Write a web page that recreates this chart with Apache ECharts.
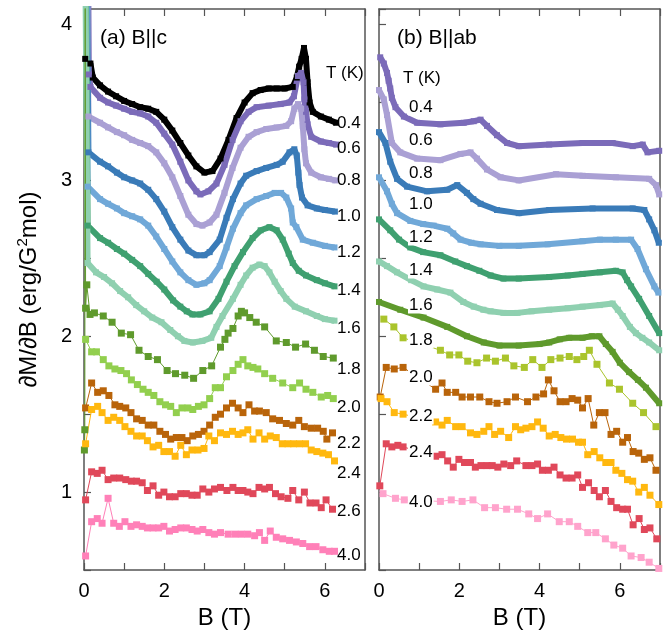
<!DOCTYPE html>
<html>
<head>
<meta charset="utf-8">
<script src="https://cdn.jsdelivr.net/npm/echarts@6/dist/echarts.min.js"></script>
<style>html,body{margin:0;padding:0;background:#fff}#c{width:667px;height:635px}</style>
</head>
<body>
<div id="c"></div>
<script>
// ---------- DATA: panel (a) B||c  [B (T), dM/dB] ----------
const a04 = [[0.03,3.78],[0.16,3.75],[0.22,3.66],[0.4,3.61],[0.6,3.57],[0.8,3.54],[1.0,3.51],[1.2,3.49],[1.4,3.47],[1.6,3.46],[1.8,3.44],[2.0,3.39],[2.2,3.32],[2.4,3.24],[2.6,3.16],[2.8,3.09],[3.0,3.05],[3.2,3.06],[3.4,3.14],[3.6,3.26],[3.8,3.40],[4.0,3.50],[4.2,3.56],[4.4,3.58],[4.6,3.59],[4.8,3.59],[5.0,3.59],[5.2,3.60],[5.3,3.66],[5.36,3.73],[5.42,3.78],[5.48,3.85],[5.53,3.78],[5.57,3.63],[5.62,3.50],[5.7,3.44],[5.9,3.41],[6.1,3.39],[6.28,3.37]];
const a06 = [[0.1,4.5],[0.12,3.68],[0.16,3.60],[0.4,3.53],[0.6,3.50],[0.8,3.48],[1.0,3.46],[1.2,3.44],[1.4,3.43],[1.6,3.41],[1.8,3.37],[2.0,3.30],[2.2,3.23],[2.4,3.12],[2.6,3.00],[2.8,2.93],[2.9,2.91],[3.1,2.93],[3.3,2.98],[3.5,3.10],[3.7,3.26],[3.9,3.38],[4.1,3.44],[4.3,3.47],[4.6,3.48],[4.9,3.49],[5.12,3.50],[5.23,3.54],[5.33,3.67],[5.41,3.69],[5.47,3.63],[5.49,3.52],[5.53,3.44],[5.57,3.36],[5.66,3.28],[5.9,3.25],[6.1,3.24],[6.28,3.23]];
const a08 = [[0.08,4.5],[0.11,3.41],[0.4,3.37],[0.6,3.34],[0.82,3.31],[1.0,3.29],[1.2,3.26],[1.4,3.24],[1.6,3.22],[1.8,3.18],[2.0,3.11],[2.2,3.02],[2.4,2.90],[2.6,2.78],[2.8,2.72],[2.95,2.71],[3.13,2.73],[3.3,2.78],[3.5,2.92],[3.7,3.08],[3.9,3.21],[4.1,3.28],[4.3,3.31],[4.54,3.33],[4.8,3.34],[5.04,3.35],[5.16,3.38],[5.24,3.46],[5.33,3.49],[5.41,3.46],[5.45,3.35],[5.49,3.20],[5.53,3.11],[5.66,3.05],[5.9,3.02],[6.1,3.01],[6.26,3.00]];
const a10 = [[0.07,4.5],[0.11,3.18],[0.4,3.12],[0.6,3.09],[0.82,3.05],[1.0,3.02],[1.2,3.00],[1.4,2.98],[1.6,2.94],[1.8,2.88],[2.0,2.80],[2.2,2.70],[2.4,2.62],[2.6,2.55],[2.8,2.52],[3.0,2.52],[3.13,2.54],[3.38,2.62],[3.55,2.76],[3.71,2.88],[3.9,2.98],[4.04,3.03],[4.3,3.06],[4.54,3.08],[4.8,3.10],[4.95,3.12],[5.12,3.18],[5.24,3.20],[5.3,3.16],[5.34,3.05],[5.37,2.97],[5.43,2.89],[5.57,2.84],[5.8,2.82],[6.0,2.81],[6.25,2.80]];
const a12 = [[0.06,4.5],[0.09,2.96],[0.4,2.88],[0.6,2.85],[0.82,2.82],[1.0,2.79],[1.2,2.77],[1.4,2.75],[1.6,2.71],[1.8,2.64],[2.0,2.56],[2.2,2.48],[2.4,2.41],[2.6,2.36],[2.8,2.33],[3.0,2.34],[3.13,2.36],[3.38,2.45],[3.55,2.57],[3.71,2.69],[3.9,2.79],[4.04,2.84],[4.3,2.88],[4.54,2.90],[4.75,2.92],[4.91,2.92],[5.04,2.89],[5.16,2.82],[5.2,2.73],[5.29,2.70],[5.45,2.62],[5.7,2.60],[6.0,2.58],[6.24,2.57]];
const a14 = [[0.04,4.5],[0.09,2.71],[0.4,2.63],[0.6,2.60],[0.82,2.56],[1.0,2.53],[1.2,2.49],[1.4,2.45],[1.6,2.40],[1.81,2.35],[2.0,2.30],[2.22,2.23],[2.4,2.19],[2.56,2.16],[2.7,2.14],[2.9,2.14],[3.13,2.16],[3.35,2.24],[3.55,2.35],[3.75,2.45],[3.96,2.54],[4.2,2.63],[4.4,2.68],[4.62,2.70],[4.8,2.68],[4.95,2.62],[5.1,2.53],[5.2,2.47],[5.35,2.42],[5.53,2.39],[5.8,2.36],[6.0,2.34],[6.24,2.32]];
const a16 = [[0.03,4.5],[0.09,2.47],[0.3,2.41],[0.5,2.38],[0.7,2.34],[0.9,2.29],[1.1,2.25],[1.3,2.20],[1.5,2.16],[1.7,2.12],[1.93,2.09],[2.15,2.04],[2.34,2.00],[2.5,1.97],[2.71,1.96],[2.95,1.97],[3.17,1.99],[3.3,2.06],[3.45,2.13],[3.71,2.24],[3.9,2.33],[4.04,2.39],[4.2,2.44],[4.37,2.46],[4.5,2.45],[4.62,2.41],[4.75,2.35],[4.9,2.29],[5.04,2.24],[5.25,2.19],[5.53,2.16],[5.8,2.13],[6.0,2.11],[6.24,2.10]];
const a18 = [[0.01,1.27],[0.02,1.40],[0.03,4.4],[0.04,2.18],[0.07,2.33],[0.15,2.14],[0.26,2.15],[0.48,2.13],[0.70,2.09],[0.93,2.02],[1.16,2.01],[1.37,1.91],[1.6,1.87],[1.83,1.85],[2.07,1.78],[2.28,1.76],[2.51,1.75],[2.73,1.73],[2.96,1.78],[3.18,1.81],[3.4,1.93],[3.51,1.98],[3.59,2.02],[3.71,2.05],[3.84,2.13],[3.92,2.16],[4.0,2.15],[4.13,2.12],[4.29,2.09],[4.5,2.06],[4.79,1.97],[5.04,1.96],[5.27,1.93],[5.52,1.95],[5.74,1.91],[5.96,1.87],[6.21,1.86]];
const a20 = [[0.04,1.98],[0.19,1.90],[0.31,1.90],[0.48,1.85],[0.62,1.81],[0.77,1.79],[0.92,1.78],[1.06,1.76],[1.18,1.72],[1.33,1.69],[1.47,1.66],[1.6,1.64],[1.74,1.62],[1.89,1.58],[2.03,1.56],[2.16,1.55],[2.3,1.51],[2.44,1.54],[2.59,1.54],[2.71,1.53],[2.85,1.55],[2.99,1.56],[3.13,1.60],[3.27,1.67],[3.4,1.67],[3.55,1.74],[3.71,1.78],[3.84,1.82],[3.96,1.85],[4.08,1.81],[4.21,1.80],[4.33,1.79],[4.5,1.76],[4.7,1.73],[4.95,1.70],[5.2,1.67],[5.37,1.70],[5.53,1.66],[5.7,1.64],[5.91,1.61],[6.07,1.62],[6.21,1.60]];
const a22 = [[0.04,1.54],[0.19,1.70],[0.34,1.64],[0.48,1.65],[0.62,1.62],[0.77,1.56],[0.89,1.55],[1.04,1.54],[1.17,1.51],[1.31,1.47],[1.45,1.46],[1.6,1.43],[1.74,1.43],[1.89,1.39],[2.03,1.37],[2.16,1.34],[2.3,1.35],[2.44,1.35],[2.57,1.33],[2.71,1.36],[2.85,1.37],[2.99,1.39],[3.13,1.43],[3.27,1.48],[3.4,1.50],[3.55,1.54],[3.7,1.57],[3.84,1.54],[3.96,1.51],[4.11,1.56],[4.25,1.52],[4.37,1.52],[4.54,1.51],[4.7,1.47],[4.87,1.46],[5.04,1.44],[5.2,1.43],[5.35,1.46],[5.49,1.42],[5.66,1.41],[5.82,1.41],[5.96,1.39],[6.05,1.34],[6.19,1.38]];
const a24 = [[0.04,1.31],[0.19,1.53],[0.34,1.55],[0.45,1.51],[0.6,1.46],[0.74,1.48],[0.89,1.46],[1.02,1.42],[1.17,1.39],[1.31,1.36],[1.45,1.36],[1.58,1.33],[1.72,1.29],[1.86,1.30],[1.99,1.26],[2.13,1.26],[2.27,1.23],[2.41,1.30],[2.55,1.24],[2.69,1.27],[2.84,1.27],[2.99,1.28],[3.11,1.36],[3.25,1.33],[3.4,1.38],[3.55,1.37],[3.7,1.39],[3.84,1.37],[3.96,1.38],[4.08,1.40],[4.21,1.34],[4.36,1.38],[4.5,1.34],[4.64,1.36],[4.79,1.35],[4.94,1.31],[5.08,1.31],[5.22,1.31],[5.37,1.31],[5.52,1.31],[5.66,1.27],[5.8,1.26],[5.95,1.25],[6.09,1.24],[6.24,1.20]];
const a26 = [[0.04,0.95],[0.19,1.13],[0.33,1.12],[0.45,1.14],[0.6,1.08],[0.74,1.09],[0.89,1.09],[1.04,1.08],[1.18,1.07],[1.31,1.07],[1.45,1.06],[1.58,1.01],[1.72,1.04],[1.86,0.98],[1.99,1.00],[2.13,0.97],[2.27,0.97],[2.41,0.99],[2.55,0.99],[2.69,0.98],[2.82,0.98],[2.96,1.02],[3.11,1.00],[3.25,1.02],[3.4,1.03],[3.56,1.01],[3.71,1.03],[3.84,1.01],[3.96,1.01],[4.08,1.00],[4.21,0.99],[4.36,1.03],[4.5,1.02],[4.62,1.03],[4.77,0.99],[4.91,0.97],[5.08,0.96],[5.2,1.01],[5.35,0.95],[5.49,1.00],[5.63,0.93],[5.78,0.93],[5.91,0.90],[6.03,0.95],[6.19,0.89]];
const a40 = [[0.04,0.59],[0.19,0.81],[0.33,0.83],[0.45,0.80],[0.6,0.96],[0.74,0.80],[0.88,0.78],[1.02,0.81],[1.17,0.78],[1.31,0.79],[1.45,0.78],[1.58,0.77],[1.72,0.77],[1.86,0.77],[1.99,0.78],[2.13,0.75],[2.27,0.76],[2.41,0.77],[2.55,0.77],[2.69,0.76],[2.82,0.75],[2.96,0.76],[3.11,0.74],[3.25,0.73],[3.4,0.74],[3.59,0.73],[3.76,0.73],[3.92,0.73],[4.08,0.73],[4.25,0.72],[4.37,0.74],[4.5,0.69],[4.64,0.75],[4.79,0.71],[4.95,0.70],[5.12,0.69],[5.29,0.68],[5.45,0.67],[5.62,0.65],[5.78,0.65],[5.95,0.63],[6.11,0.62],[6.24,0.62]];

// ---------- DATA: panel (b) B||ab ----------
const b04 = [[0.03,3.79],[0.12,3.75],[0.2,3.69],[0.24,3.64],[0.28,3.59],[0.32,3.53],[0.41,3.47],[0.62,3.41],[0.95,3.37],[1.53,3.36],[2.11,3.37],[2.36,3.38],[2.53,3.39],[2.69,3.35],[2.94,3.29],[3.19,3.24],[3.48,3.22],[4.24,3.23],[5.07,3.24],[5.82,3.24],[6.32,3.22],[6.57,3.23],[6.69,3.18],[6.98,3.19]];
const b06 = [[0.0,3.58],[0.12,3.52],[0.2,3.42],[0.32,3.24],[0.53,3.18],[0.95,3.14],[1.53,3.13],[2.03,3.17],[2.28,3.18],[2.44,3.14],[2.69,3.07],[3.03,3.02],[3.48,3.00],[4.41,3.04],[5.07,3.03],[5.9,3.02],[6.73,3.01],[6.9,2.97],[6.98,2.91]];
const b08 = [[0.0,3.31],[0.16,3.24],[0.28,3.12],[0.45,3.01],[0.7,2.96],[1.2,2.93],[1.7,2.94],[1.95,2.97],[2.19,2.92],[2.35,2.88],[2.53,2.85],[2.94,2.81],[3.48,2.79],[4.24,2.81],[5.32,2.82],[6.32,2.82],[6.61,2.81],[6.73,2.75],[6.86,2.68],[6.97,2.60]];
const b10 = [[0.0,3.02],[0.2,2.93],[0.32,2.85],[0.45,2.79],[0.78,2.74],[1.1,2.72],[1.36,2.71],[1.7,2.69],[1.85,2.66],[2.03,2.62],[2.3,2.60],[2.53,2.59],[3.0,2.58],[3.48,2.58],[4.2,2.59],[5.07,2.61],[5.5,2.62],[5.9,2.62],[6.28,2.62],[6.44,2.56],[6.65,2.43],[6.86,2.32],[6.96,2.28]];
const b12 = [[0.0,2.75],[0.28,2.68],[0.5,2.62],[0.78,2.57],[1.1,2.54],[1.53,2.52],[1.9,2.48],[2.19,2.45],[2.5,2.42],[2.78,2.39],[3.1,2.37],[3.48,2.37],[4.24,2.38],[4.7,2.39],[5.07,2.40],[5.5,2.41],[5.9,2.42],[6.07,2.41],[6.18,2.36],[6.28,2.32],[6.48,2.24],[6.73,2.13],[6.98,2.02]];
const b14 = [[0.0,2.48],[0.2,2.45],[0.45,2.41],[0.8,2.36],[1.11,2.32],[1.45,2.30],[1.78,2.28],[2.1,2.22],[2.36,2.19],[2.6,2.17],[2.78,2.16],[3.1,2.15],[3.45,2.15],[3.8,2.16],[4.24,2.17],[4.7,2.18],[5.07,2.19],[5.5,2.20],[5.82,2.21],[5.95,2.17],[6.07,2.13],[6.25,2.06],[6.4,2.02],[6.56,1.99],[6.73,1.96],[6.98,1.91]];
const b16 = [[0.0,2.22],[0.53,2.17],[1.11,2.12],[1.7,2.06],[2.19,2.00],[2.61,1.96],[3.0,1.94],[3.48,1.94],[4.0,1.95],[4.24,1.96],[4.5,1.98],[4.74,1.99],[5.07,1.99],[5.3,2.00],[5.49,2.00],[5.65,1.95],[5.82,1.90],[6.0,1.83],[6.23,1.77],[6.45,1.72],[6.65,1.67],[6.98,1.57]];
const b18 = [[0.12,2.11],[0.37,2.06],[0.6,1.99],[1.53,1.91],[1.76,1.88],[1.99,1.88],[2.21,1.84],[2.44,1.83],[2.68,1.86],[2.9,1.84],[3.15,1.86],[3.36,1.81],[3.62,1.80],[3.83,1.85],[4.06,1.80],[4.28,1.85],[4.51,1.86],[4.74,1.87],[4.93,1.85],[5.1,1.87],[5.24,1.91],[5.43,1.82],[5.74,1.70],[5.99,1.66],[6.32,1.57],[6.59,1.51],[6.9,1.42]];
const b20 = [[0.03,1.61],[0.18,1.80],[0.38,1.79],[0.6,1.80],[1.41,1.66],[1.57,1.70],[1.7,1.64],[1.91,1.64],[2.07,1.61],[2.28,1.61],[2.51,1.61],[2.74,1.58],[2.94,1.57],[3.19,1.58],[3.4,1.61],[3.7,1.58],[3.91,1.61],[4.1,1.63],[4.22,1.72],[4.36,1.65],[4.51,1.58],[4.66,1.58],[4.81,1.60],[4.95,1.59],[5.07,1.54],[5.21,1.60],[5.35,1.43],[5.49,1.51],[5.63,1.51],[5.78,1.37],[5.92,1.39],[6.07,1.32],[6.19,1.35],[6.33,1.26],[6.47,1.25],[6.61,1.21],[6.75,1.22],[6.9,1.14]];
const b22 = [[0.05,1.60],[0.2,1.58],[0.38,1.51],[0.6,1.50],[1.41,1.45],[1.57,1.43],[1.7,1.46],[1.91,1.42],[2.07,1.42],[2.28,1.38],[2.44,1.37],[2.61,1.39],[2.74,1.42],[2.88,1.37],[3.03,1.39],[3.23,1.35],[3.4,1.42],[3.53,1.40],[3.66,1.41],[3.81,1.42],[3.95,1.45],[4.09,1.41],[4.24,1.36],[4.39,1.37],[4.53,1.35],[4.67,1.34],[4.82,1.34],[4.97,1.32],[5.07,1.32],[5.2,1.24],[5.36,1.26],[5.5,1.22],[5.65,1.19],[5.78,1.19],[5.9,1.14],[6.05,1.12],[6.19,1.08],[6.32,1.07],[6.47,1.00],[6.61,1.03],[6.75,0.98],[6.97,0.92]];
const b24 = [[0.02,1.04],[0.18,1.31],[0.32,1.29],[0.47,1.30],[0.6,1.29],[1.41,1.23],[1.57,1.24],[1.71,1.20],[1.85,1.16],[1.99,1.21],[2.13,1.19],[2.28,1.19],[2.4,1.16],[2.54,1.17],[2.69,1.17],[2.82,1.17],[2.96,1.16],[3.11,1.18],[3.28,1.17],[3.43,1.20],[3.66,1.17],[3.81,1.17],[3.95,1.18],[4.07,1.14],[4.22,1.14],[4.36,1.16],[4.51,1.11],[4.66,1.09],[4.81,1.09],[4.95,1.11],[5.07,1.03],[5.22,1.06],[5.36,1.01],[5.49,0.97],[5.64,1.01],[5.78,0.94],[5.92,0.90],[6.07,0.89],[6.19,0.89],[6.33,0.79],[6.48,0.83],[6.61,0.76],[6.75,0.77],[6.92,0.70]];
const b40 = [[0.1,0.99],[0.41,0.96],[0.63,0.95],[1.53,0.94],[1.8,0.95],[2.07,0.94],[2.34,0.95],[2.63,0.90],[2.9,0.90],[3.18,0.89],[3.45,0.89],[3.73,0.86],[3.95,0.83],[4.2,0.86],[4.49,0.81],[4.74,0.81],[4.95,0.78],[5.2,0.74],[5.4,0.74],[5.64,0.70],[5.85,0.66],[6.07,0.64],[6.28,0.59],[6.53,0.58],[6.73,0.55],[6.97,0.51]];

// ---------- TEXT ----------
const tempsA = ['0.4','0.6','0.8','1.0','1.2','1.4','1.6','1.8','2.0','2.2','2.4','2.6','4.0'];
const tempsB = ['0.4','0.6','0.8','1.0','1.2','1.4','1.6','1.8','2.0','2.2','2.4','4.0'];
const xTickLabels = ['0','2','4','6'];
const yTickLabels = ['1','2','3','4'];

// ---------- layout / style (not data) ----------
const FONT = '"Liberation Sans", Arial, Helvetica, sans-serif';
const labelYA = [123, 148, 180, 216, 252, 290, 328, 369, 407, 443, 473, 511, 555];
const labelYB = [107, 140, 173, 204, 237, 270, 305, 340, 377, 416, 452, 502];

const C = {
  black:'#000000', purple:'#7b6bb9', lpurple:'#aaa0d4', blue:'#3a7bb8', lblue:'#70a8d8',
  green:'#3fa070', lgreen:'#8fd0b0', olive:'#5f9a2c', ygreen:'#92cf4e', brown:'#b9640a',
  orange:'#ffb80f', red:'#e0485a', pink:'#ff80b8', ygreen2:'#aac42c', pink2:'#ffa3cc'
};

const seriesDefs = [
  [a04,C.black,0,'d'],[a06,C.purple,0,'d'],[a08,C.lpurple,0,'d'],[a10,C.blue,0,'d'],
  [a12,C.lblue,0,'d'],[a14,C.green,0,'d'],[a16,C.lgreen,0,'d'],
  [a18,C.olive,0,'s'],[a20,C.ygreen,0,'s'],[a22,C.brown,0,'s'],[a24,C.orange,0,'s'],
  [a26,C.red,0,'s'],[a40,C.pink,0,'s'],
  [b04,C.purple,1,'d'],[b06,C.lpurple,1,'d'],[b08,C.blue,1,'d'],[b10,C.lblue,1,'d'],
  [b12,C.green,1,'d'],[b14,C.lgreen,1,'d'],[b16,C.olive,1,'d'],
  [b18,C.ygreen2,1,'s'],[b20,C.brown,1,'s'],[b22,C.orange,1,'s'],[b24,C.red,1,'s'],[b40,C.pink2,1,'s']
];

const series = seriesDefs.map(([data,color,g,kind]) => ({
  type:'line', data, xAxisIndex: g*2, yAxisIndex: g*2, clip:true, animation:false,
  symbol:'rect', symbolSize: kind==='d' ? 6 : 7, showSymbol:true,
  lineStyle:{ width: kind==='d' ? 6 : 1, color },
  itemStyle:{ color }, emphasis:{disabled:true}
}));

const AX = '#555';
function xAxis(g, pos, labels, name){
  return {
    type:'value', gridIndex:g, position:pos, min:0, max:7, interval:1,
    axisLine:{show:true, onZero:false, lineStyle:{color:AX, width:1.5}},
    axisTick:{show:true, inside:true, length:7, lineStyle:{color:AX, width:1.2}},
    splitLine:{show:false},
    axisLabel:{show:labels, margin:11, fontSize:20, fontFamily:FONT, color:'#000',
      formatter: v => xTickLabels.includes(String(v)) ? String(v) : ''},
    name: name || '', nameLocation:'middle', nameGap:36,
    nameTextStyle:{fontSize:24, fontFamily:FONT, color:'#000'}
  };
}
function yAxis(g, pos, labels, name){
  return {
    type:'value', gridIndex:g, position:pos, min:0.5, max:4.1, interval:0.5,
    axisLine:{show:true, onZero:false, lineStyle:{color:AX, width:1.5}},
    axisTick:{show:pos==='left', inside:true, length:7, lineStyle:{color:AX, width:1.2}},
    splitLine:{show:false},
    axisLabel:{show:labels, margin:12, fontSize:20, fontFamily:FONT, color:'#000',
      formatter: v => yTickLabels.includes(String(v)) ? String(v) : ''},
    name: name || '', nameLocation:'middle', nameGap:41,
    nameTextStyle:{fontSize:24, fontFamily:FONT, color:'#000', lineHeight:28,
      rich:{sup:{fontSize:15, fontFamily:FONT, color:'#000', lineHeight:14, verticalAlign:'top'}}}
  };
}

function txt(x, y, t, size, bg){
  const st = {text:t, font: size+'px '+FONT, fill:'#000', textVerticalAlign:'middle', verticalAlign:'middle'};
  if (bg) { st.backgroundColor = '#fff'; st.padding = [0,1]; }
  return {type:'text', x, y, z:100, style:st};
}

const graphic = [
  txt(100, 38, '(a) B||c', 21),
  txt(397, 38, '(b) B||ab', 21),
  txt(326, 73, 'T (K)', 17),
  txt(402, 78, 'T (K)', 17, true),
  ...tempsA.map((t,i) => txt(337, labelYA[i], t, 17)),
  ...tempsB.map((t,i) => txt(408, labelYB[i], t, 17, true))
];

const chart = echarts.init(document.getElementById('c'), null, {renderer:'canvas'});
chart.setOption({
  animation:false,
  backgroundColor:'#fff',
  grid:[
    {left:84, top:9, width:281, height:561},
    {left:379, top:9, width:281, height:561}
  ],
  xAxis:[ xAxis(0,'bottom',true,'B (T)'), xAxis(0,'top',false), xAxis(1,'bottom',true,'B (T)'), xAxis(1,'top',false) ],
  yAxis:[ yAxis(0,'left',true,'∂M/∂B (erg/G{sup|2}mol)'), yAxis(0,'right',false), yAxis(1,'left',false), yAxis(1,'right',false) ],
  series,
  graphic
});
</script>
</body>
</html>
